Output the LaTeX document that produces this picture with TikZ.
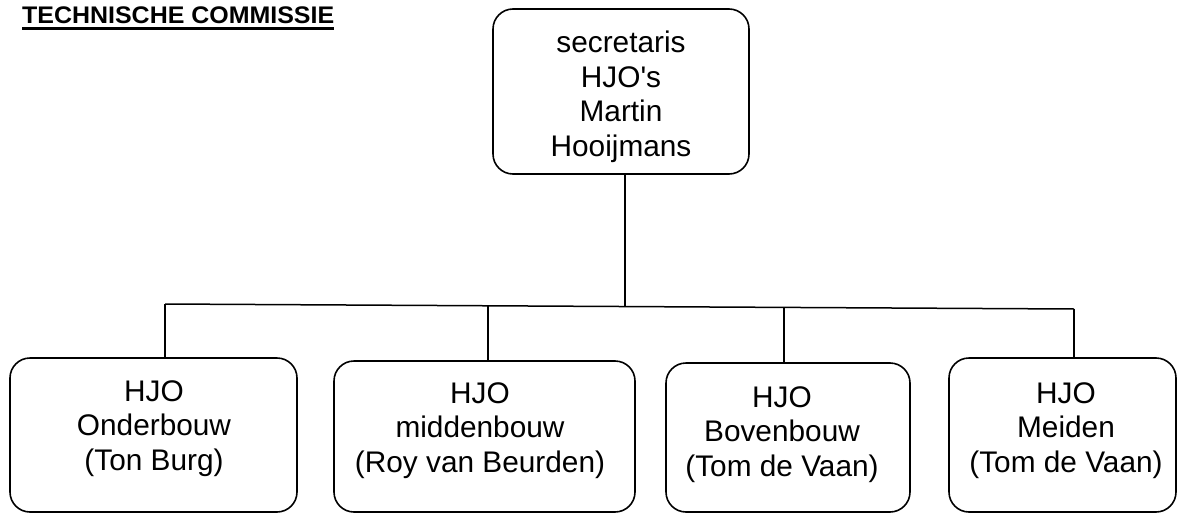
\documentclass[tikz,border=0pt]{standalone}
\usepackage{fontspec}
\setmainfont{Liberation Sans}
\begin{document}
\begin{tikzpicture}[x=1pt,y=-1pt,
  box/.style={draw=black,line width=1.6pt,rounded corners=20pt,inner sep=0pt},
  conn/.style={draw=black,line width=1.5pt},
  lbl/.style={align=center,inner sep=0pt,anchor=base,font=\fontsize{29.8}{34.4}\selectfont}]
\useasboundingbox (0,0) rectangle (1178,514);
% title
\node[anchor=base west,inner sep=0pt,font=\bfseries\fontsize{24}{26}\selectfont] (title) at (22,23.5) {\scalebox{1.04}[1]{TECHNISCHE COMMISSIE}};
\draw[line width=2.6pt] ([yshift=-5pt]title.base west) -- ([yshift=-5pt]title.base east);
% boxes
\node[box,minimum width=256pt,minimum height=165pt] (top) at (621,91.5) {};
\node[box,minimum width=287pt,minimum height=154pt] (b1) at (153.5,435) {};
\node[box,minimum width=301pt,minimum height=151pt] (b2) at (484.5,436.5) {};
\node[box,minimum width=244pt,minimum height=149pt] (b3) at (788,437.5) {};
\node[box,minimum width=227pt,minimum height=154pt] (b4) at (1062.5,435) {};
% texts (anchor = baseline of last line)
\node[lbl] (ttop) at (621,156) {secretaris\\HJO\textquotesingle s\\Martin\\Hooijmans};
\node[lbl] (t1) at (154,470) {HJO\\Onderbouw\\(Ton Burg)};
\node[lbl] (t2) at (480,472) {HJO\\middenbouw\\(Roy van Beurden)};
\node[lbl] (t3) at (782,476) {HJO\\Bovenbouw\\(Tom de Vaan)};
\node[lbl] (t4) at (1066,472) {HJO\\Meiden\\(Tom de Vaan)};
% connectors
\coordinate (trunk) at (625,305.5);
\coordinate (j1) at (165,304);
\coordinate (j2) at (488,306);
\coordinate (j3) at (784,307);
\coordinate (j4) at (1074,309);
\draw[conn] (top.south -| trunk) -- (trunk);
\draw[conn] (j1) -- (j4);
\draw[conn] (j1) -- (j1 |- b1.north);
\draw[conn] (j2) -- (j2 |- b2.north);
\draw[conn] (j3) -- (j3 |- b3.north);
\draw[conn] (j4) -- (j4 |- b4.north);
\end{tikzpicture}
\end{document}
